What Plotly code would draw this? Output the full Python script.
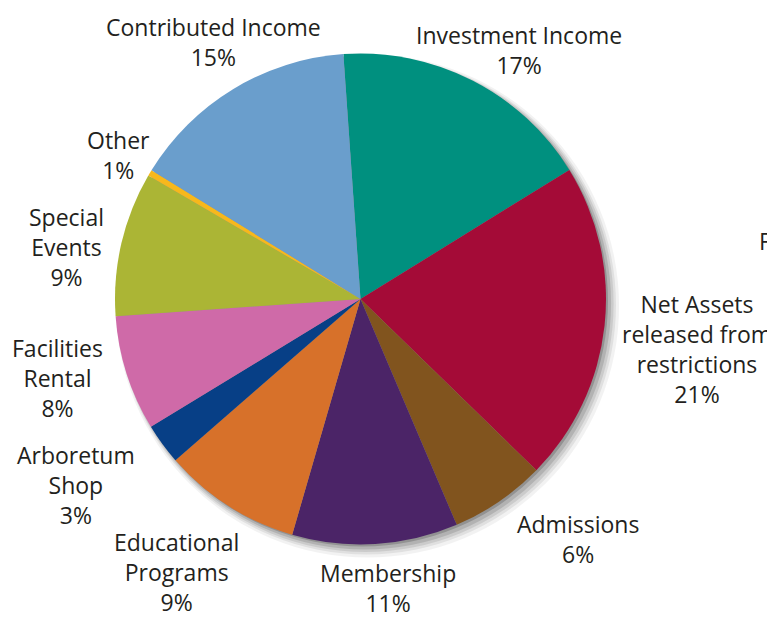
import plotly.graph_objects as go

W, H = 775, 618
OX, OY = 8, 8  # page body margin compensation

categories = ["Investment Income", "Net Assets released from restrictions", "Admissions",
              "Membership", "Educational Programs", "Arboretum Shop", "Facilities Rental",
              "Special Events", "Other", "Contributed Income"]
values = [17.3, 21.1, 6.3, 10.9, 9.1, 2.7, 7.6, 9.5, 0.4, 15.1]
pct_labels = ["17%", "21%", "6%", "11%", "9%", "3%", "8%", "9%", "1%", "15%"]
label_text = ["Investment Income", "Net Assets<br>released from<br>restrictions", "Admissions",
              "Membership", "Educational<br>Programs", "Arboretum<br>Shop", "Facilities<br>Rental",
              "Special<br>Events", "Other", "Contributed Income"]
colors = ["#00907F", "#A40B37", "#81541E", "#4B2467", "#D7712A", "#073F86",
          "#CF6AA8", "#ABB535", "#F7B81C", "#6A9ECC"]

# label block centres in reference pixels
label_pos = [(519, 50), (697, 349), (578, 538.5), (388, 587.5), (176, 571.5),
             (76, 485.5), (57, 377.5), (66, 247), (118, 155), (213, 42.5)]

cx, cy, r = 360.5, 299, 245.5


def px(x, y):
    return (x - OX) / W, 1 - (y - OY) / H


def dom(x0, y0, rad):
    x0 -= OX
    y0 -= OY
    return dict(x=[(x0 - rad) / W, (x0 + rad) / W],
                y=[1 - (y0 + rad) / H, 1 - (y0 - rad) / H])


fig = go.Figure()

# soft drop shadow layers
for i, (dx, dy, dr, a) in enumerate([(7, 7, 6, 0.05), (6, 6, 4, 0.07), (5, 5, 2.5, 0.09),
                                      (4, 4, 1, 0.12), (2, 2, 0, 0.18)]):
    fig.add_trace(go.Pie(values=[1], labels=["shadow%d" % i], sort=False,
                         marker=dict(colors=["rgba(0,0,0,%g)" % a], line=dict(width=0)),
                         textinfo="none", hoverinfo="skip", showlegend=False,
                         domain=dom(cx + dx, cy + dy, r + dr)))

fig.add_trace(go.Pie(values=values, labels=categories, sort=False, direction="clockwise",
                     rotation=-4, marker=dict(colors=colors, line=dict(width=0)),
                     textinfo="none", showlegend=False, domain=dom(cx, cy, r)))

for txt, pct, (x, y) in zip(label_text, pct_labels, label_pos):
    ax, ay = px(x, y)
    fig.add_annotation(x=ax, y=ay, xref="paper", yref="paper",
                       text=txt + "<br>" + pct, showarrow=False, xanchor="center",
                       yanchor="middle", align="center", borderpad=0,
                       font=dict(family="Open Sans", size=23, color="#231F20"))

fx, fy = px(772, 241)
fig.add_annotation(x=fx, y=fy, xref="paper", yref="paper", text="F",
                   showarrow=False, xanchor="right", yanchor="middle", borderpad=0,
                   font=dict(family="Open Sans", size=23, color="#231F20"))

fig.update_layout(width=W, height=H, margin=dict(l=0, r=0, t=0, b=0),
                  paper_bgcolor="white", plot_bgcolor="white")

fig.write_html("out.html")
